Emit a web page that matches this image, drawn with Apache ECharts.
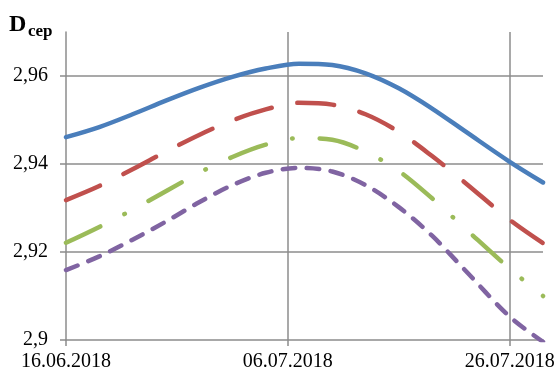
<!DOCTYPE html>
<html>
<head>
<meta charset="utf-8">
<script src="https://cdn.jsdelivr.net/npm/echarts@6/dist/echarts.min.js"></script>
<style>
  html, body { margin: 0; padding: 0; background: #fff; }
  #chart { width: 559px; height: 374px; }
</style>
</head>
<body>
<div id="chart"></div>
<script>
// Days counted from 16.06.2018
const days = [0, 3, 6, 9, 12, 15, 18, 21, 24, 27, 30, 33, 36, 40, 43];
const xTickLabels = ['16.06.2018', '06.07.2018', '26.07.2018'];
const xTickDays = [0, 20, 40];
const yTicks = [2.9, 2.92, 2.94, 2.96];

const seriesBlue   = [2.9461, 2.9484, 2.9513, 2.9544, 2.9573, 2.9598, 2.9617, 2.9628, 2.9625, 2.9606, 2.9572, 2.9526, 2.9474, 2.9405, 2.9358];
const seriesRed    = [2.9318, 2.9350, 2.9388, 2.9428, 2.9466, 2.9499, 2.9524, 2.9539, 2.9535, 2.9513, 2.9473, 2.9418, 2.9357, 2.9273, 2.9220];
const seriesGreen  = [2.9221, 2.9257, 2.9296, 2.9338, 2.9380, 2.9416, 2.9444, 2.9459, 2.9455, 2.9428, 2.9384, 2.9322, 2.9253, 2.9162, 2.9100];
const seriesPurple = [2.9159, 2.9190, 2.9228, 2.9269, 2.9313, 2.9352, 2.9380, 2.9391, 2.9383, 2.9352, 2.9302, 2.9237, 2.9158, 2.9053, 2.8996];

const pairs = vals => days.map((d, i) => [d, vals[i]]);

const gridGray = '#8c8c8c';
const font = '"Liberation Serif", "Times New Roman", serif';

const chart = echarts.init(document.getElementById('chart'), null, { renderer: 'canvas' });

function lineSeries(data, color, dash) {
  return {
    type: 'line',
    data: pairs(data),
    smooth: 0.33,
    showSymbol: false,
    symbol: 'none',
    clip: true,
    lineStyle: { color: color, width: 4.5, type: dash, cap: 'round', join: 'round' }
  };
}

chart.setOption({
  animation: false,
  backgroundColor: '#fff',
  grid: { left: 66, top: 32, right: 16, bottom: 34 },
  graphic: [
    { type: 'text', left: 9, top: 13, style: { text: 'D', font: 'bold 24px ' + font, fill: '#000' } },
    { type: 'text', left: 28, top: 23, style: { text: 'cep', font: 'bold 17px ' + font, fill: '#000' } }
  ],
  xAxis: {
    type: 'value',
    min: 0,
    max: 43,
    interval: 20,
    axisLine: { show: true, onZero: false, lineStyle: { color: gridGray, width: 1.5 } },
    axisTick: { show: true, length: 6, customValues: xTickDays, lineStyle: { color: gridGray, width: 1.5 } },
    axisLabel: {
      customValues: xTickDays,
      margin: 12,
      color: '#000',
      fontFamily: font,
      fontSize: 20,
      formatter: v => xTickLabels[xTickDays.indexOf(v)] || ''
    },
    splitLine: { show: true, showMinLine: false, lineStyle: { color: gridGray, width: 1.5 } }
  },
  yAxis: {
    type: 'value',
    min: 2.9,
    max: 2.97,
    interval: 0.02,
    axisLine: { show: true, lineStyle: { color: gridGray, width: 1.5 } },
    axisTick: { show: true, length: 6, customValues: yTicks, lineStyle: { color: gridGray, width: 1.5 } },
    axisLabel: {
      customValues: yTicks,
      margin: 18,
      color: '#000',
      fontFamily: font,
      fontSize: 20,
      formatter: v => String(+v.toFixed(2)).replace('.', ',')
    },
    splitLine: { show: true, showMinLine: false, lineStyle: { color: gridGray, width: 1.5 } }
  },
  series: [
    lineSeries(seriesPurple, '#8064A2', [12.5, 11.5]),
    lineSeries(seriesGreen, '#9BBB59', [38, 27, 0.5, 27]),
    lineSeries(seriesRed, '#C0504D', [37, 26]),
    lineSeries(seriesBlue, '#4A7EBB', 'solid')
  ]
});
</script>
</body>
</html>
